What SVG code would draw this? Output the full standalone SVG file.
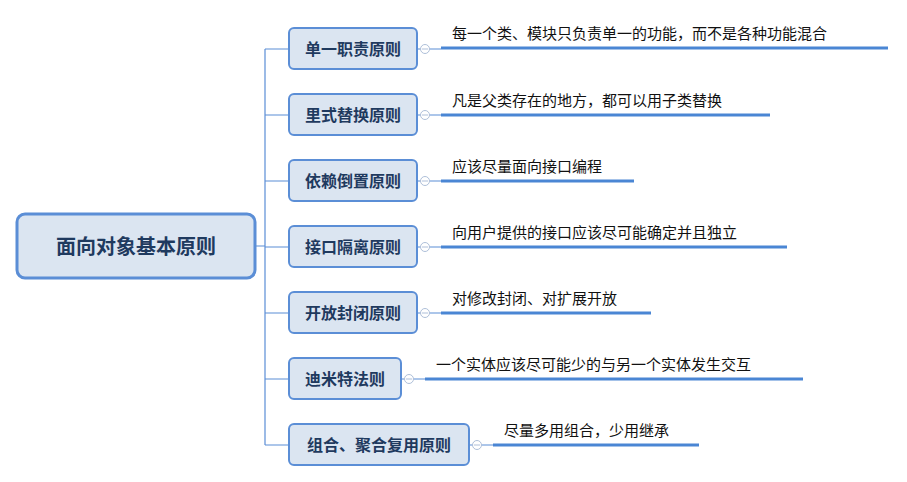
<svg xmlns="http://www.w3.org/2000/svg" width="907" height="482" viewBox="0 0 907 482">
<style>
.box{fill:#dbe5f1;stroke:#5b8ed6;stroke-width:2}
.root{fill:#dbe5f1;stroke:#5b8ed6;stroke-width:3}
.t{font-family:"Noto Sans CJK SC",sans-serif;font-weight:bold;fill:#1f3a5f;text-anchor:middle}
.d{font-family:"Noto Sans CJK SC",sans-serif;font-size:15px;fill:#111}
.c{fill:none;stroke:#5b8ed6;stroke-width:1.2}
.u{stroke:#4a86d4;stroke-width:3}
.k{fill:#fff;stroke:#aebfd9;stroke-width:1}
</style>
<g id="connectors">
<path class="c" d="M255 246H265M265 49V445M265 49H289M265 115H289M265 181H289M265 247H289M265 313H289M265 379H289M265 445H289"/>
<path class="c" d="M417 49H441M417 115H441M417 181H441M417 247H441M417 313H441M401 379H425M469 445H493"/>
<line class="u" x1="441" y1="48" x2="888" y2="48"/>
<line class="u" x1="441" y1="115" x2="770" y2="115"/>
<line class="u" x1="441" y1="181" x2="634" y2="181"/>
<line class="u" x1="441" y1="247" x2="787" y2="247"/>
<line class="u" x1="441" y1="313" x2="651" y2="313"/>
<line class="u" x1="425" y1="379" x2="803" y2="379"/>
<line class="u" x1="493" y1="445" x2="699" y2="445"/>
<g class="k"><circle cx="425" cy="49" r="4.5"/><circle cx="425" cy="115" r="4.5"/><circle cx="425" cy="181" r="4.5"/><circle cx="425" cy="247" r="4.5"/><circle cx="425" cy="313" r="4.5"/><circle cx="409" cy="379" r="4.5"/><circle cx="477" cy="445" r="4.5"/></g>
<path stroke="#aebfd9" d="M422 49h6M422 115h6M422 181h6M422 247h6M422 313h6M406 379h6M474 445h6"/>
</g>
<g id="root"><rect class="root" x="17" y="214" width="238" height="64" rx="8"/><text class="t" x="136" y="254" font-size="20">面向对象基本原则</text></g>
<g id="n1"><rect class="box" x="289" y="28" width="128" height="41" rx="5"/><text class="t" x="353" y="55" font-size="16">单一职责原则</text></g>
<g id="n2"><rect class="box" x="289" y="94" width="128" height="41" rx="5"/><text class="t" x="353" y="121" font-size="16">里式替换原则</text></g>
<g id="n3"><rect class="box" x="289" y="160" width="128" height="41" rx="5"/><text class="t" x="353" y="187" font-size="16">依赖倒置原则</text></g>
<g id="n4"><rect class="box" x="289" y="226" width="128" height="41" rx="5"/><text class="t" x="353" y="253" font-size="16">接口隔离原则</text></g>
<g id="n5"><rect class="box" x="289" y="292" width="128" height="41" rx="5"/><text class="t" x="353" y="319" font-size="16">开放封闭原则</text></g>
<g id="n6"><rect class="box" x="289" y="358" width="112" height="41" rx="5"/><text class="t" x="345" y="385" font-size="16">迪米特法则</text></g>
<g id="n7"><rect class="box" x="289" y="424" width="180" height="41" rx="5"/><text class="t" x="379" y="451" font-size="16">组合、聚合复用原则</text></g>
<g id="d1"><text class="d" x="452" y="39">每一个类、模块只负责单一的功能，而不是各种功能混合</text></g>
<g id="d2"><text class="d" x="452" y="106">凡是父类存在的地方，都可以用子类替换</text></g>
<g id="d3"><text class="d" x="452" y="172">应该尽量面向接口编程</text></g>
<g id="d4"><text class="d" x="452" y="238">向用户提供的接口应该尽可能确定并且独立</text></g>
<g id="d5"><text class="d" x="452" y="304">对修改封闭、对扩展开放</text></g>
<g id="d6"><text class="d" x="436" y="370">一个实体应该尽可能少的与另一个实体发生交互</text></g>
<g id="d7"><text class="d" x="504" y="436">尽量多用组合，少用继承</text></g>
</svg>
